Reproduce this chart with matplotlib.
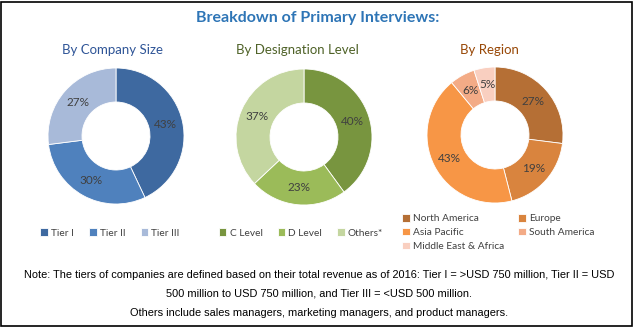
import matplotlib.pyplot as plt
from matplotlib.patches import Rectangle

# data
title = "Breakdown of Primary Interviews:"

size_title = "By Company Size"
size_labels = ["Tier I", "Tier II", "Tier III"]
size_values = [43, 30, 27]
size_colors = ["#3E69A0", "#4F81BD", "#A8BAD9"]

desig_title = "By Designation Level"
desig_labels = ["C Level", "D Level", "Others*"]
desig_values = [40, 23, 37]
desig_colors = ["#78953F", "#9BBB59", "#C4D6A0"]

region_title = "By Region"
region_labels = ["North America", "Europe", "Asia Pacific", "South America", "Middle East & Africa"]
region_values = [27, 19, 43, 6, 5]
region_colors = ["#B56F35", "#D9843E", "#F79646", "#F3AB86", "#F9CFC0"]

notes = [
    "Note: The tiers of companies are defined based on their total revenue as of 2016: Tier I = >USD 750 million, Tier II = USD",
    "500 million to USD 750 million, and Tier III = <USD 500 million.",
    "Others include sales managers, marketing managers, and product managers.",
]

W, H = 635, 327
fig = plt.figure(figsize=(W / 100, H / 100), dpi=100)
fig.patch.set_facecolor("white")

FONT = "Lato"


def donut(cx, cy, values, colors, r=68):
    ax = fig.add_axes([(cx - r) / W, 1 - (cy + r) / H, 2 * r / W, 2 * r / H])
    wedges, _, _ = ax.pie(values, colors=colors, startangle=90, counterclock=False,
                          wedgeprops=dict(width=0.5, edgecolor="white", linewidth=0.6),
                          autopct=lambda p: f"{p:.0f}%", pctdistance=0.75,
                          textprops=dict(color="#404040", fontsize=8.5, family=FONT))
    ax.set_xlim(-1, 1)
    ax.set_ylim(-1, 1)
    return wedges


legend_kw = dict(frameon=False, handlelength=0.75, handleheight=0.75, handletextpad=0.3,
                 prop=dict(family=FONT, size=7.3), labelcolor="#404040")

# company size
w1 = donut(116, 136, size_values, size_colors)
fig.text(112 / W, 1 - 50 / H, size_title, ha="center", va="center",
         color="#2F5597", fontsize=9.5, family=FONT)
fig.legend(w1, size_labels, loc="center", bbox_to_anchor=(110 / W, 1 - 233 / H),
           ncol=3, columnspacing=1.5, **legend_kw)

# designation level
w2 = donut(304, 137, desig_values, desig_colors)
fig.text(297 / W, 1 - 50 / H, desig_title, ha="center", va="center",
         color="#4F6228", fontsize=9.5, family=FONT)
fig.legend(w2, desig_labels, loc="center", bbox_to_anchor=(301 / W, 1 - 233 / H),
           ncol=3, columnspacing=1.5, **legend_kw)

# region
w3 = donut(495, 135, region_values, region_colors)
fig.text(489 / W, 1 - 50 / H, region_title, ha="center", va="center",
         color="#984807", fontsize=9.5, family=FONT)
order = [0, 2, 4, 1, 3]
fig.legend([w3[i] for i in order], [region_labels[i] for i in order], loc="upper left",
           bbox_to_anchor=(393 / W, 1 - 205 / H), ncol=2, columnspacing=1.4,
           labelspacing=0.45, **legend_kw)

# title and notes
fig.text(318 / W, 1 - 18 / H, title, ha="center", va="center", color="#2E75B6",
         fontsize=11.5, fontweight="bold", family=FONT)
for y, line in zip([275, 294, 313], notes):
    fig.text(319 / W, 1 - y / H, line, ha="center", va="center", color="black",
             fontsize=7.9, family="Liberation Sans")

# frame
fig.add_artist(Rectangle((0.5 / W, 1.5 / H), (W - 4) / W, (H - 3) / H, transform=fig.transFigure,
                         fill=False, edgecolor="black", linewidth=1.2))

fig.savefig("out.png", dpi=100)
